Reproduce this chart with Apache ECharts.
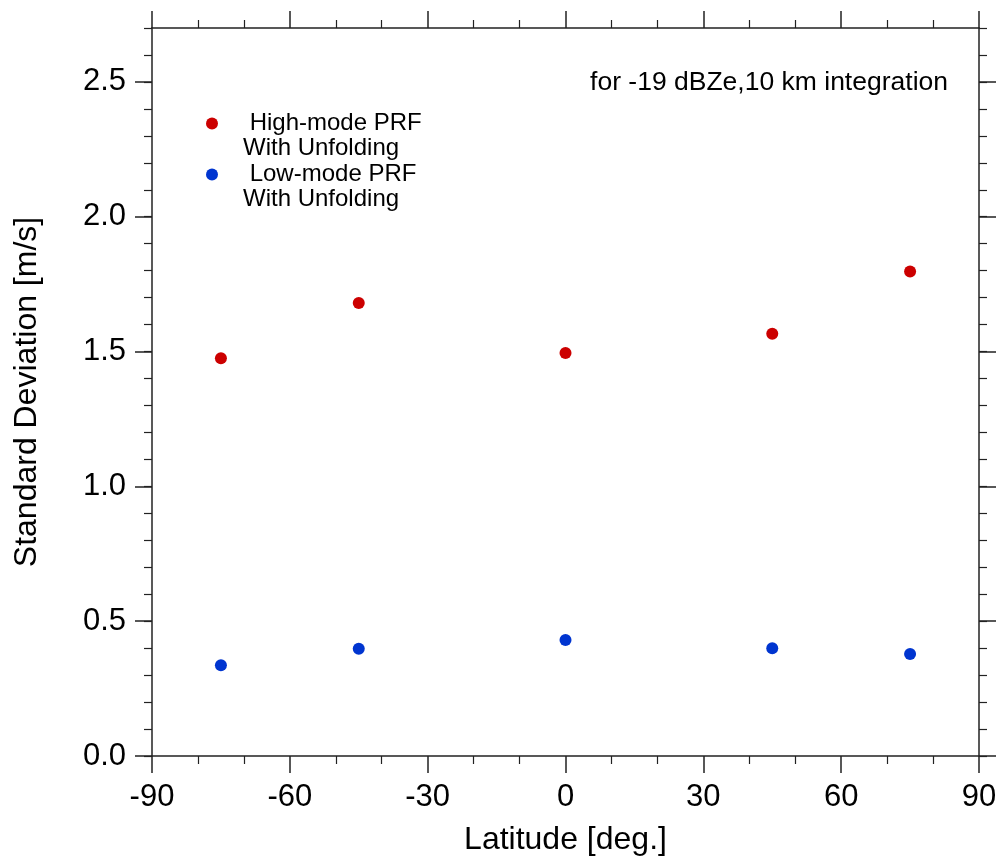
<!DOCTYPE html>
<html>
<head>
<meta charset="utf-8">
<script src="https://cdn.jsdelivr.net/npm/echarts@6/dist/echarts.min.js"></script>
<style>
  html, body { margin: 0; padding: 0; background: #fff; }
  #main { width: 1000px; height: 860px; }
</style>
</head>
<body>
<div id="main"></div>
<script>
// latitudes of the sample points
const latitudes = [-75, -45, 0, 45, 75]
// standard deviation [m/s]
const highModeStd = [1.475, 1.68, 1.495, 1.566, 1.797]
const lowModeStd = [0.337, 0.398, 0.43, 0.40, 0.378]
// labelled y ticks (top of axis is 2.7, unlabelled)
const yMajorTicks = [0, 0.5, 1.0, 1.5, 2.0, 2.5]
const highName = 'High-mode PRF With Unfolding'
const lowName = 'Low-mode PRF With Unfolding'

const FONT = '"Liberation Sans", Arial, sans-serif'
const axisColor = '#222'

function toPairs(xs, ys) {
  return xs.map((x, i) => [x, ys[i]])
}

// x 轴：刻度朝外，带次刻度
function xAxisBase(pos, showLabel) {
  return {
    type: 'value',
    position: pos,
    min: -90,
    max: 90,
    interval: 30,
    axisLine: { show: true, onZero: false, lineStyle: { color: axisColor, width: 1.5 } },
    axisTick: { show: true, length: 17, lineStyle: { color: axisColor, width: 1.5 } },
    minorTick: { show: true, splitNumber: 3, length: 8, lineStyle: { color: axisColor, width: 1.2 } },
    splitLine: { show: false },
    axisLabel: { show: showLabel, margin: 26, color: '#000', fontSize: 31, fontFamily: FONT }
  }
}
// y 主刻度轴（0.5 一格）
function yMajorAxis(pos, showLabel) {
  return {
    type: 'value',
    position: pos,
    min: 0,
    max: 2.7,
    interval: 0.5,
    axisLine: { show: true, onZero: false, lineStyle: { color: axisColor, width: 1.5 } },
    axisTick: { show: true, length: 17, customValues: yMajorTicks, lineStyle: { color: axisColor, width: 1.5 } },
    splitLine: { show: false },
    axisLabel: {
      show: showLabel, margin: 26, color: '#000', fontSize: 31, fontFamily: FONT,
      customValues: yMajorTicks,
      formatter: v => v.toFixed(1)
    }
  }
}
// y 次刻度轴（0.1 一格）
function yMinorAxis(pos) {
  return {
    type: 'value',
    position: pos,
    min: 0,
    max: 2.7,
    interval: 0.1,
    axisLine: { show: false, onZero: false },
    axisTick: { show: true, length: 8, lineStyle: { color: axisColor, width: 1.2 } },
    splitLine: { show: false },
    axisLabel: { show: false }
  }
}

function legendFor(name, top) {
  return {
    data: [{ name: name, icon: 'circle' }],
    left: 206,
    top: top,
    padding: 0,
    itemWidth: 52,
    itemHeight: 12,
    selectedMode: false,
    formatter: n => n === highName ? '\n High-mode PRF\nWith Unfolding' : '\n Low-mode PRF\nWith Unfolding',
    textStyle: { fontSize: 24, lineHeight: 25, color: '#000', fontFamily: FONT }
  }
}

const chart = echarts.init(document.getElementById('main'))
chart.setOption({
  backgroundColor: '#fff',
  animation: false,
  title: {
    text: 'for -19 dBZe,10 km integration',
    right: 47,
    top: 64,
    textStyle: { fontSize: 26.5, fontWeight: 'normal', color: '#000', fontFamily: FONT }
  },
  legend: [legendFor(highName, 86), legendFor(lowName, 137)],
  grid: { left: 152, right: 21, top: 28, bottom: 104, outerBoundsMode: 'none' },
  xAxis: [
    Object.assign(xAxisBase('bottom', true), {
      name: 'Latitude [deg.]',
      nameLocation: 'middle',
      nameGap: 68,
      nameTextStyle: { fontSize: 32, color: '#000', fontFamily: FONT }
    }),
    xAxisBase('top', false)
  ],
  yAxis: [
    Object.assign(yMajorAxis('left', true), {
      name: 'Standard Deviation [m/s]',
      nameLocation: 'middle',
      nameGap: 109,
      nameTextStyle: { fontSize: 32, color: '#000', fontFamily: FONT }
    }),
    yMajorAxis('right', false),
    yMinorAxis('left'),
    yMinorAxis('right')
  ],
  series: [
    {
      name: highName,
      type: 'scatter',
      symbol: 'circle',
      symbolSize: 12,
      itemStyle: { color: '#cc0000', opacity: 1 },
      data: toPairs(latitudes, highModeStd)
    },
    {
      name: lowName,
      type: 'scatter',
      symbol: 'circle',
      symbolSize: 12,
      itemStyle: { color: '#0035d0', opacity: 1 },
      data: toPairs(latitudes, lowModeStd)
    }
  ]
})
</script>
</body>
</html>
